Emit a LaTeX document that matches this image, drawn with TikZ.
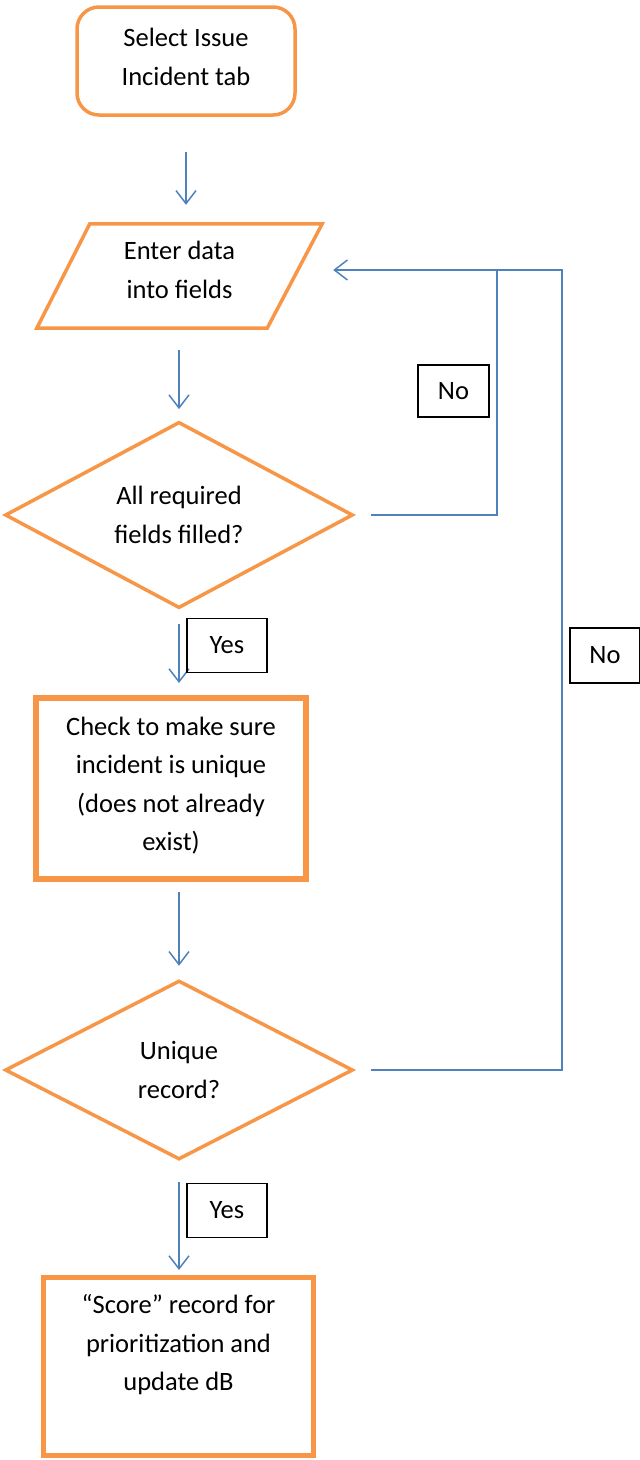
\documentclass[tikz,border=0pt]{standalone}
\usepackage{fontspec}
\setmainfont{Carlito}
\usetikzlibrary{shapes.geometric,arrows.meta,calc}
\definecolor{flowblue}{RGB}{79,129,189}
\definecolor{floworange}{RGB}{247,150,70}
\begin{document}
\begin{tikzpicture}[x=1pt,y=-1pt,
  every node/.style={font=\fontsize{26.5}{38.5}\selectfont, align=center, inner sep=0pt},
  startbox/.style={draw=floworange, line width=3.5pt, rounded corners=22pt, minimum width=218pt, minimum height=108pt},
  thinbox/.style={draw=floworange, line width=3.5pt},
  decision/.style={diamond, draw=floworange, line width=3.5pt, minimum width=348pt, minimum height=179pt},
  process/.style={draw=floworange, line width=6pt, minimum width=270pt},
  tag/.style={draw=black, line width=1.2pt, minimum height=54pt},
  arr/.style={draw=flowblue, line width=1.5pt, -{Straight Barb[length=13pt,width=20pt]}},
  link/.style={draw=flowblue, line width=1.5pt}
]
\useasboundingbox (0,0) rectangle (640,1460);

% start
\node[startbox] (select) at (186,61) {};
\node (selecttext) at (186,57) {Select Issue\\Incident tab};

% input (parallelogram drawn around an invisible frame)
\node[minimum width=285pt, minimum height=104pt] (enter) at (179.5,276) {};
\draw[thinbox, line join=miter]
  (enter.south west) -- ($(enter.south east)+(-55,0)$) -- (enter.north east)
  -- ($(enter.north west)+(53,0)$) -- cycle;
\node (entertext) at (179.5,270) {Enter data\\into fields};

% decisions and process steps
\node[decision] (q1) at (179,515) {All required\\fields filled?};
\node[process, minimum height=181pt] (check) at (171,788.5) {};
\node (checktext) at (171,785.5)
  {Check to make sure\\incident is unique\\(does not already\\exist)};
\node[decision] (q2) at (179,1070) {Unique\\record?};
\node[process, line width=5pt, minimum height=178pt] (score) at (178.5,1366.5) {};
\node (scoretext) at (178.5,1345) {\textquotedblleft Score\textquotedblright{} record for\\prioritization and\\update dB};

% loop-back corners
\coordinate (loopA) at (497,270);
\coordinate (loopB) at (562,270);

% main flow
\draw[arr, shorten <=35pt, shorten >=19pt] (select.south) -- (select.south |- enter.north);
\draw[arr, shorten <=22pt, shorten >=11pt] (q1.north |- enter.south) -- (q1.north);
\draw[arr, shorten <=14pt, shorten >=12pt] (q1.south) -- (q1.south |- check.north);
\draw[arr, shorten <=10pt, shorten >=13pt] (q2.north |- check.south) -- (q2.north);
\draw[arr, shorten <=21pt, shorten >=5pt] (q2.south) -- (q2.south |- score.north);

% "No" branches back to data entry
\draw[link, shorten <=16pt] (q1.east) -| (loopA);
\draw[link, shorten <=16pt] (q2.east) -| (loopB) -- (loopA);
\draw[arr, shorten >=11pt] (loopA) -- (enter.east |- loopA);

% branch labels
\node[tag, minimum width=71pt, minimum height=52pt] (no1) at (453.5,391) {No};
\node[tag, minimum width=70pt, minimum height=55pt] (no2) at (605,655.5) {No};
\node[tag, minimum width=80pt] (yes1) at (227,645.5) {Yes};
\node[tag, minimum width=80pt] (yes2) at (227,1210.5) {Yes};
\end{tikzpicture}
\end{document}
